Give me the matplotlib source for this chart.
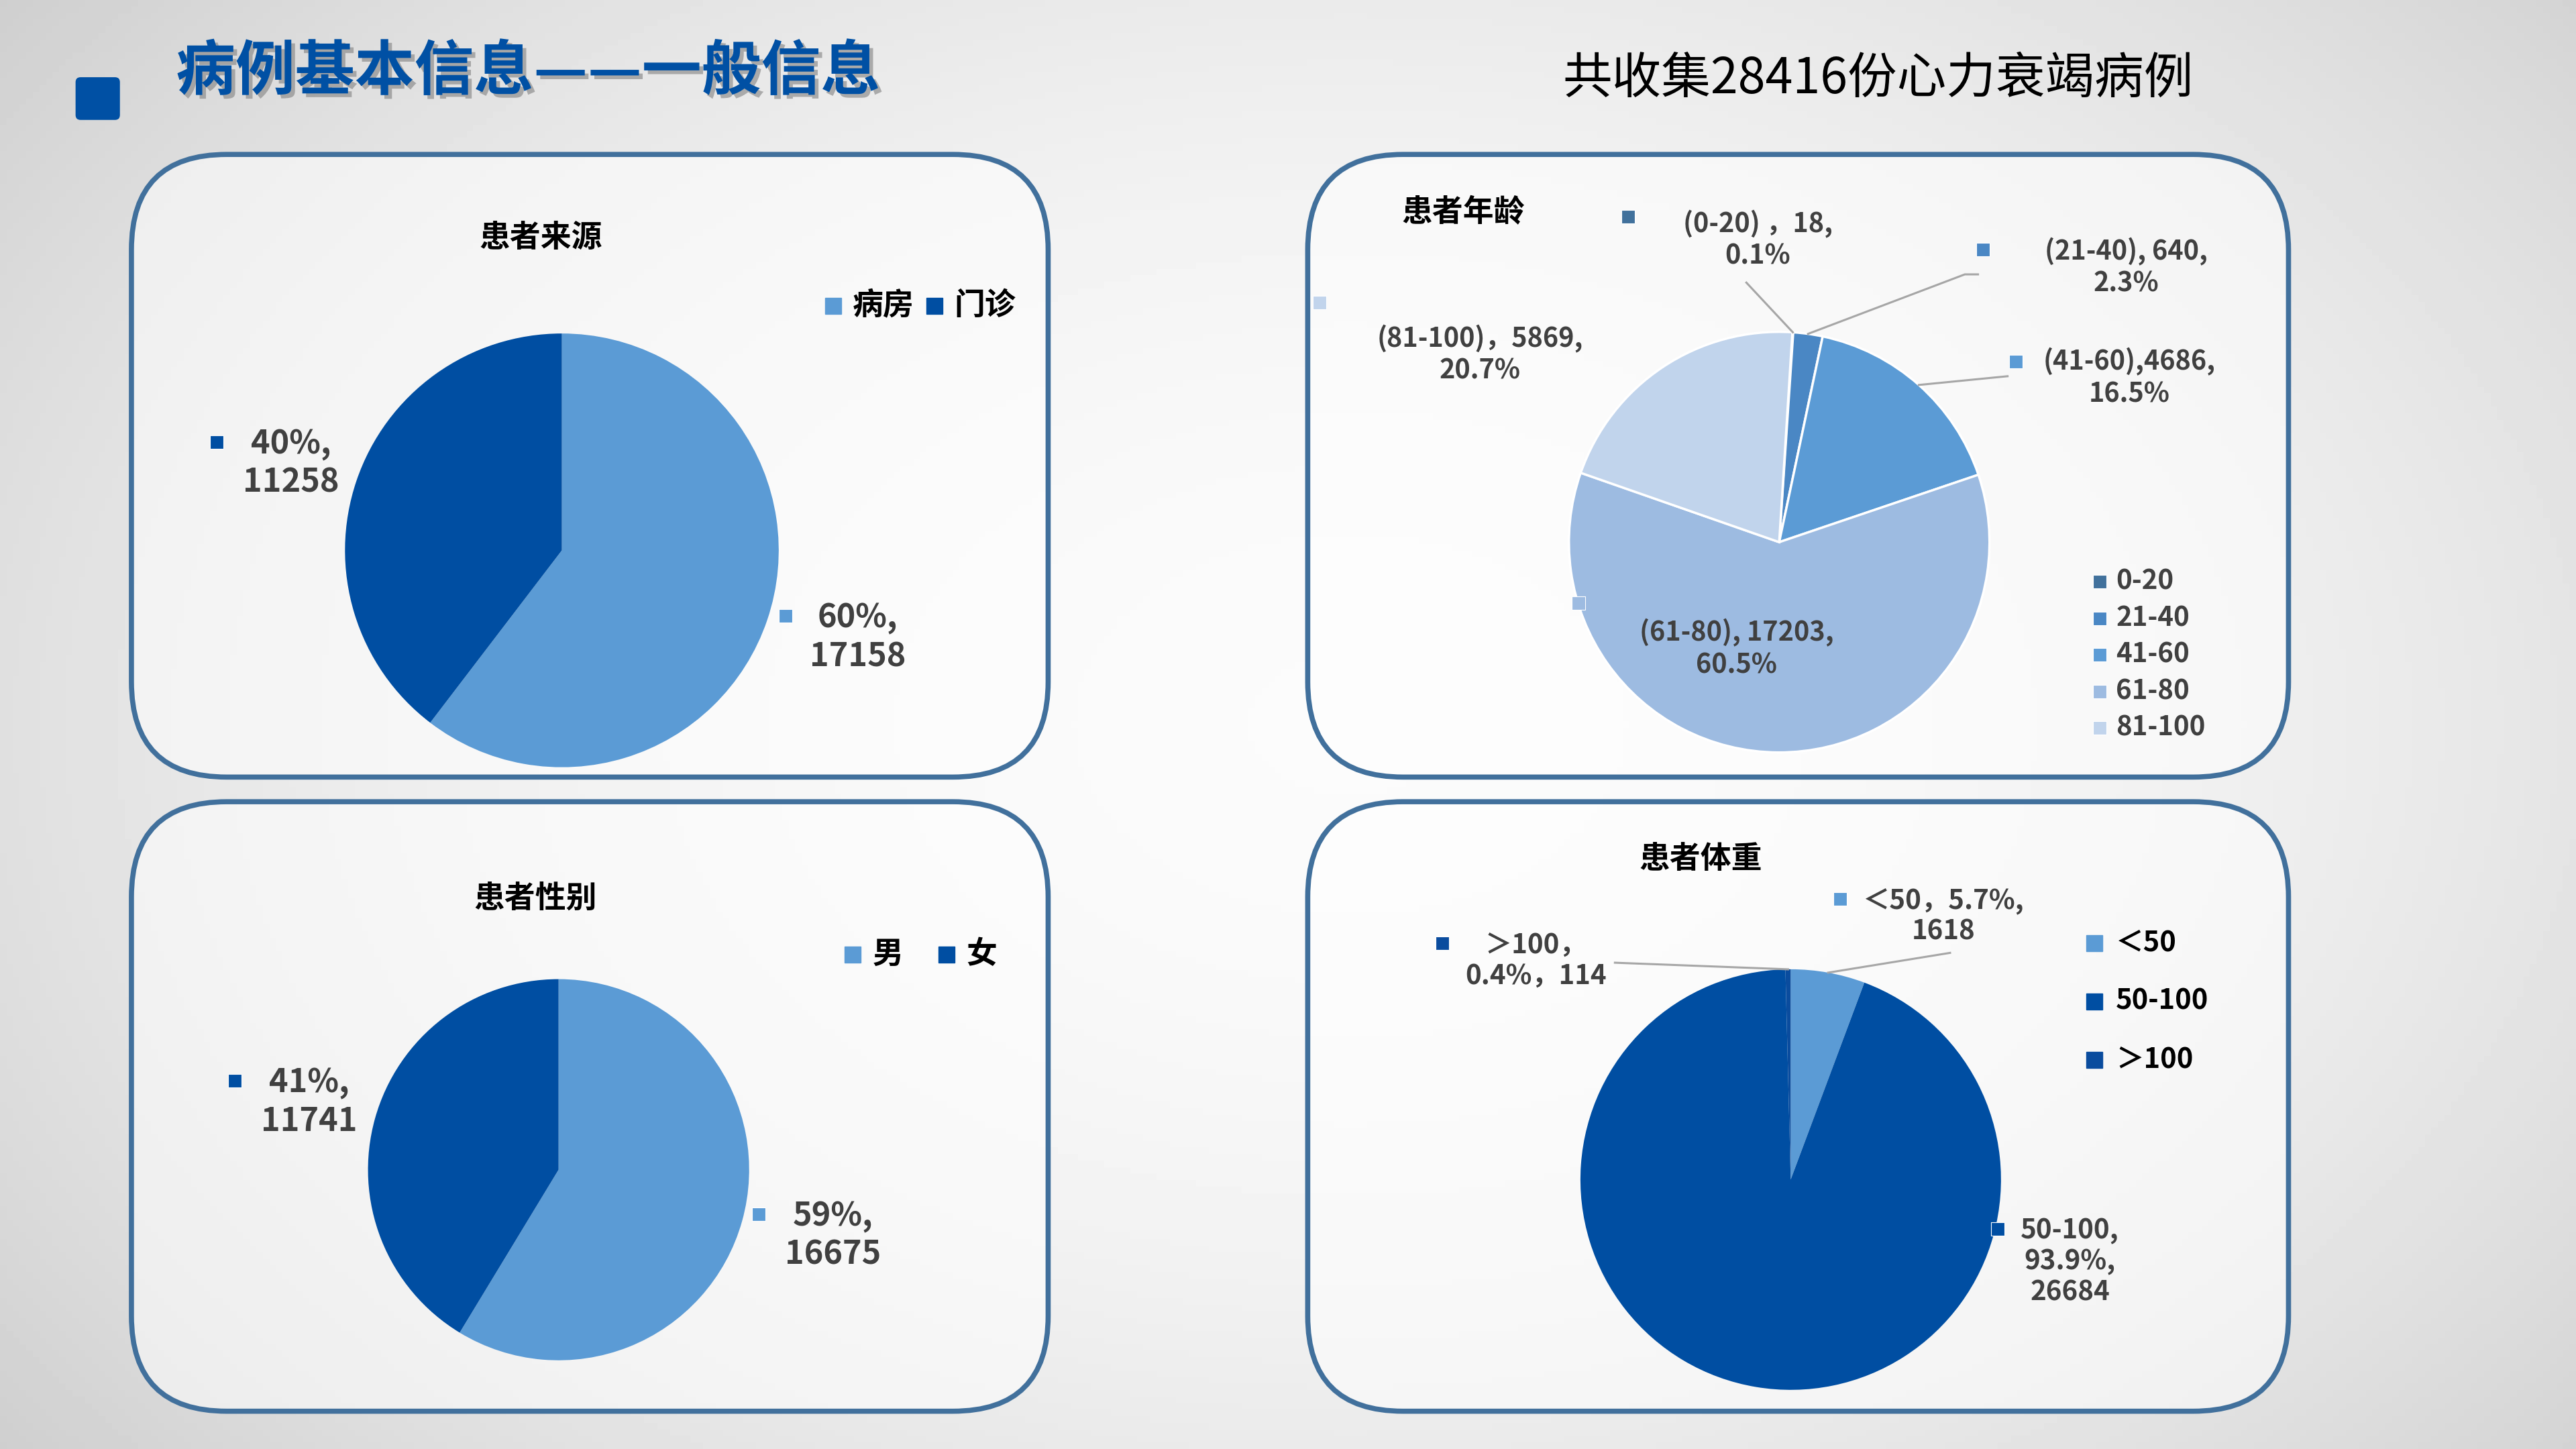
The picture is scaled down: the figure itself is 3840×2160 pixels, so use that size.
import numpy as np
import matplotlib
matplotlib.use("Agg")
import matplotlib.pyplot as plt
import matplotlib.patheffects as pe
from matplotlib.patches import FancyBboxPatch

plt.rcParams['font.family'] = ['Noto Sans CJK SC', 'DejaVu Sans']

# data
total_cases = 28416

source_names = ['病房', '门诊']
source_counts = [17158, 11258]

sex_names = ['男', '女']
sex_counts = [16675, 11741]

age_names = ['0-20', '21-40', '41-60', '61-80', '81-100']
age_counts = [18, 640, 4686, 17203, 5869]
age_label_fmt = ['({}) ，{},\n{}%', '({}), {},\n{}%', '({}),{},\n{}%',
                 '({}), {},\n{}%', '({})，{},\n{}%']

weight_names = ['＜50', '50-100', '＞100']
weight_counts = [1618, 26684, 114]
weight_label_fmt = ['{}，{}%,\n{}', '{},\n{}%,\n{}', '{}，\n{}%，{}']

light = '#5B9BD5'
dark = '#004EA2'
source_colors = [light, dark]
sex_colors = [light, dark]
age_colors = ['#41719C', '#4A87C4', '#5B9BD5', '#9DBBE1', '#C1D4EC']
weight_colors = [light, dark, '#0A4C9E']
text_gray = '#404040'

# reference layout units (y down)
W, H = 1568, 882


def fig_rect(x0, y0, w, h):
    return [x0 / W, 1 - (y0 + h) / H, w / W, h / H]


fig = plt.figure(figsize=(38.4, 21.6), dpi=100)

# background gradient
bg = fig.add_axes([0, 0, 1, 1], zorder=0)
yy, xx = np.mgrid[0:H:4, 0:W:4]
d = np.sqrt(((xx - 820) / 900.0) ** 2 + ((yy - 440) / 620.0) ** 2)
shade = 0.985 - 0.13 * np.clip(d, 0, 1.4) ** 2
bg.imshow(shade, cmap='gray', vmin=0, vmax=1, extent=(0, W, H, 0), aspect='auto')
bg.set_xlim(0, W)
bg.set_ylim(H, 0)
bg.axis('off')

# panels
panels = [(80, 94, 558, 379), (796, 94, 597, 379), (80, 488, 558, 371), (796, 488, 597, 371)]
for (x0, y0, w, h) in panels:
    bg.add_patch(FancyBboxPatch((x0, y0), w, h, boxstyle='round,pad=0,rounding_size=58',
                                facecolor=(1, 1, 1, 0.55), edgecolor='#41709C', linewidth=5.5))
bg.add_patch(FancyBboxPatch((46, 47), 27, 26, boxstyle='round,pad=0,rounding_size=3',
                            facecolor='#0050A4', edgecolor='none'))

over = fig.add_axes([0, 0, 1, 1], zorder=5)
over.set_xlim(0, W)
over.set_ylim(H, 0)
over.patch.set_alpha(0)
over.axis('off')


def draw_pie(cx, cy, r, counts, colors, start=90, edge=None, lw=0):
    ax = fig.add_axes(fig_rect(cx - r, cy - r, 2 * r, 2 * r), zorder=2)
    wp = dict(linewidth=lw, edgecolor=edge if edge else 'none')
    wedges, _ = ax.pie(counts, colors=colors, startangle=start, counterclock=False,
                       radius=1, wedgeprops=wp)
    ax.set_xlim(-1, 1)
    ax.set_ylim(-1, 1)
    ax.set_aspect('equal')
    for w_ in wedges:
        w_.set_clip_on(False)
    return ax, wedges


def rim_point(ax, wedge, frac=1.0):
    ang = np.deg2rad((wedge.theta1 + wedge.theta2) / 2)
    disp = ax.transData.transform((frac * np.cos(ang), frac * np.sin(ang)))
    return over.transData.inverted().transform(disp)


def data_label(tx, ty, mx, my, text, size, mcolor, ls=1.2):
    over.text(tx, ty, text, ha='center', va='center', fontsize=size, fontweight='bold',
              color=text_gray, linespacing=ls, multialignment='center')
    over.plot([mx], [my], 's', ms=15, color=mcolor, mec='white', mew=0.8)


def pct(v, nd=0):
    p = 100.0 * v / total_cases
    return f'{p:.{nd}f}'


# header
over.text(107, 44, '病例基本信息——一般信息', fontsize=64, fontweight='heavy', color='#0050A4',
          ha='left', va='center',
          path_effects=[pe.withSimplePatchShadow(offset=(4, -4), shadow_rgbFace='#808080', alpha=0.6)])
over.text(1143, 48, f'共收集{total_cases}份心力衰竭病例', fontsize=53, color='black',
          ha='center', va='center')

# ---- 患者来源
ax1, w1 = draw_pie(342, 335, 132, source_counts, source_colors)
over.text(329, 145, '患者来源', fontsize=33, fontweight='bold', color='black', ha='center', va='center')
over.plot([507], [186], 's', ms=17, color=source_colors[0])
over.text(519, 186, source_names[0], fontsize=33, fontweight='bold', color='black', ha='left', va='center')
over.plot([569], [186], 's', ms=17, color=source_colors[1])
over.text(581, 186, source_names[1], fontsize=33, fontweight='bold', color='black', ha='left', va='center')
data_label(522, 388, 478, 375, f'{pct(source_counts[0])}%,\n{source_counts[0]}', 35, source_colors[0])
data_label(177, 282, 132, 269, f'{pct(source_counts[1])}%,\n{source_counts[1]}', 35, source_colors[1])

# ---- 患者性别
ax3, w3 = draw_pie(340, 712, 116, sex_counts, sex_colors)
over.text(326, 547, '患者性别', fontsize=33, fontweight='bold', color='black', ha='center', va='center')
over.plot([519], [581], 's', ms=17, color=sex_colors[0])
over.text(531, 581, sex_names[0], fontsize=33, fontweight='bold', color='black', ha='left', va='center')
over.plot([576], [581], 's', ms=17, color=sex_colors[1])
over.text(588, 581, sex_names[1], fontsize=33, fontweight='bold', color='black', ha='left', va='center')
data_label(507, 752, 462, 739, f'{pct(sex_counts[0])}%,\n{sex_counts[0]}', 35, sex_colors[0])
data_label(188, 671, 143, 658, f'{pct(sex_counts[1])}%,\n{sex_counts[1]}', 35, sex_colors[1])

# ---- 患者年龄
ax2, w2 = draw_pie(1083, 330, 128, age_counts, age_colors, start=86.4, edge='white', lw=2.5)
over.text(853, 129, '患者年龄', fontsize=33, fontweight='bold', color='black', ha='left', va='center')
age_text_pos = [(1070, 146), (1294, 163), (1296, 230), (1057, 395), (901, 216)]
age_marker_pos = [(991, 132), (1207, 152), (1227, 220), (961, 367), (803, 184)]
age_leader_end = [[(1063, 172)], [(1196, 167), (1204, 167)], [(1222, 229)], [], []]
for i, name in enumerate(age_names):
    txt = age_label_fmt[i].format(name, age_counts[i], pct(age_counts[i], 1))
    tx, ty = age_text_pos[i]
    mx, my = age_marker_pos[i]
    data_label(tx, ty, mx, my, txt, 28.5, age_colors[i])
    if age_leader_end[i]:
        p0 = rim_point(ax2, w2[i])
        xs = [p0[0]] + [p[0] for p in age_leader_end[i]]
        ys = [p0[1]] + [p[1] for p in age_leader_end[i]]
        over.plot(xs, ys, color='#A6A6A6', lw=2.2)
for i, name in enumerate(age_names):
    y = 354 + i * 22.3
    over.plot([1278], [y], 's', ms=15, color=age_colors[i], mec='white', mew=0.8)
    over.text(1288, y, name, fontsize=29, fontweight='bold', color=text_gray, ha='left', va='center')

# ---- 患者体重
ax4, w4 = draw_pie(1090, 718, 128, weight_counts, weight_colors)
over.text(1035, 523, '患者体重', fontsize=33, fontweight='bold', color='black', ha='center', va='center')
wt_text_pos = [(1183, 558), (1260, 768), (935, 585)]
wt_marker_pos = [(1120, 547), (1216, 748), (878, 574)]
wt_leader_end = [[(1187, 580)], [], [(983, 586)]]
for i, name in enumerate(weight_names):
    txt = weight_label_fmt[i].format(name, pct(weight_counts[i], 1), weight_counts[i])
    tx, ty = wt_text_pos[i]
    mx, my = wt_marker_pos[i]
    data_label(tx, ty, mx, my, txt, 29, weight_colors[i], ls=1.15)
    if wt_leader_end[i]:
        p0 = rim_point(ax4, w4[i])
        xs = [p0[0]] + [p[0] for p in wt_leader_end[i]]
        ys = [p0[1]] + [p[1] for p in wt_leader_end[i]]
        over.plot(xs, ys, color='#A6A6A6', lw=2.2)
for i, name in enumerate(weight_names):
    y = 574 + i * 35.5
    over.plot([1275], [y], 's', ms=17, color=weight_colors[i])
    over.text(1288, y, name, fontsize=30, fontweight='bold', color='black', ha='left', va='center')

fig.savefig('out.png', dpi=100)
